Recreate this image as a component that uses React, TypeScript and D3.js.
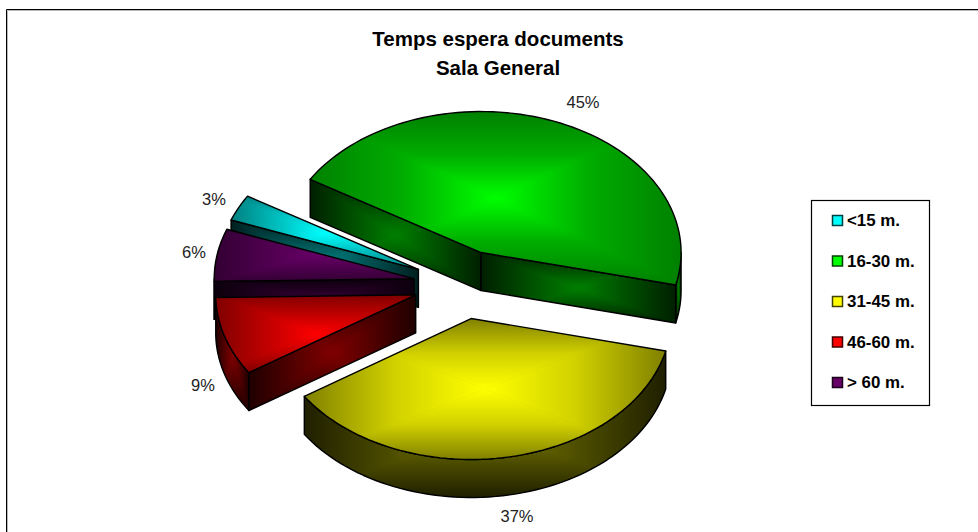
import React from "react";
import * as d3 from "d3";

// Waiting-time shares shown on the exploded 3D pie.
const categories = ["<15 m.", "16-30 m.", "31-45 m.", "46-60 m.", "> 60 m."];
const shares = [3, 45, 37, 9, 6];
const percentLabels = ["3%", "45%", "37%", "9%", "6%"];
const baseColors = ["#00ffff", "#00ff00", "#ffff00", "#ff0000", "#660066"];
const titleLines = ["Temps espera documents", "Sala General"];
// Brightness halfway along each top surface's ramp (edge 0.5, centre 1).
const topMidBrightness = [0.75, 0.68, 0.82, 0.75, 0.75];

const WIDTH = 978;
const HEIGHT = 532;
const FONT = "'Liberation Sans', Arial, sans-serif";

// Projection of the pie disc.
const CX = 462.5;
const CY = 284.5;
const RX = 200;
const RY = 141;
const DEPTH = 38;
const EXPLODE = 49;
const START_DEG = 290.5;

const labelPositions: [number, number][] = [
  [214, 205],
  [583, 108],
  [517, 522],
  [203, 391],
  [194, 258],
];
const paintOrder = [1, 0, 4, 3, 2];

type Pt = [number, number];

const pieLayout = d3
  .pie<number>()
  .sort(null)
  .startAngle((START_DEG * Math.PI) / 180)
  .endAngle((START_DEG * Math.PI) / 180 + 2 * Math.PI);

const project = (c: Pt, a: number, dz = 0): Pt => [
  c[0] + RX * Math.sin(a),
  c[1] - RY * Math.cos(a) + dz,
];

function arcPoints(c: Pt, a0: number, a1: number, dz = 0): Pt[] {
  const n = Math.max(2, Math.ceil(((a1 - a0) * 180) / Math.PI / 2));
  return d3.range(n + 1).map((i) => project(c, a0 + ((a1 - a0) * i) / n, dz));
}

const toPath = (pts: Pt[]) => d3.line()(pts) + "Z";

// Visible part of the outer rim: the stretch of arc facing the viewer.
function rimRuns(a0: number, a1: number): [number, number][] {
  const runs: [number, number][] = [];
  for (let k = 0; k <= 1; k++) {
    const lo = Math.PI / 2 + 2 * Math.PI * k;
    const hi = (3 * Math.PI) / 2 + 2 * Math.PI * k;
    const s = Math.max(a0, lo);
    const e = Math.min(a1, hi);
    if (e > s) runs.push([s, e]);
  }
  return runs;
}

type RectFill = { id: string; pts: Pt[]; center: string; mid: string; edge: string };

// Rectangular "from centre" shading: four triangles from the bounding box
// centre to its corners, each with a ramp, clipped to the shape.
function RectShade({ id, pts, center, mid, edge }: RectFill) {
  const [x0, x1] = d3.extent(pts, (p) => p[0]) as [number, number];
  const [y0, y1] = d3.extent(pts, (p) => p[1]) as [number, number];
  const mx = (x0 + x1) / 2;
  const my = (y0 + y1) / 2;
  const sides = [
    { k: "t", g: [mx, y0, mx, my], tri: [[x0, y0], [x1, y0], [mx, my]] },
    { k: "r", g: [x1, my, mx, my], tri: [[x1, y0], [x1, y1], [mx, my]] },
    { k: "b", g: [mx, y1, mx, my], tri: [[x1, y1], [x0, y1], [mx, my]] },
    { k: "l", g: [x0, my, mx, my], tri: [[x0, y1], [x0, y0], [mx, my]] },
  ];
  return (
    <g>
      <defs>
        <clipPath id={`${id}-clip`}>
          <path d={toPath(pts)} />
        </clipPath>
        {sides.map((s) => (
          <linearGradient
            key={s.k}
            id={`${id}-${s.k}`}
            gradientUnits="userSpaceOnUse"
            x1={s.g[0]}
            y1={s.g[1]}
            x2={s.g[2]}
            y2={s.g[3]}
          >
            <stop offset="0" stopColor={edge} />
            <stop offset="0.5" stopColor={mid} />
            <stop offset="1" stopColor={center} />
          </linearGradient>
        ))}
      </defs>
      <g clipPath={`url(#${id}-clip)`}>
        <rect x={x0} y={y0} width={x1 - x0} height={y1 - y0} fill={edge} />
        {sides.map((s) => (
          <path
            key={s.k}
            d={toPath(s.tri as Pt[])}
            fill={`url(#${id}-${s.k})`}
            stroke={`url(#${id}-${s.k})`}
            strokeWidth={0.6}
          />
        ))}
      </g>
      <path d={toPath(pts)} fill="none" stroke="#000" strokeWidth={1.4} strokeLinejoin="round" />
    </g>
  );
}

const shade = (base: string, k: number) => {
  const c = d3.rgb(base);
  return d3.rgb(c.r * k, c.g * k, c.b * k).formatHex();
};

export default function App() {
  const arcs = pieLayout(shares);

  const slices = paintOrder.map((i) => {
    const { startAngle: a0, endAngle: a1 } = arcs[i];
    const mid = (a0 + a1) / 2;
    const c: Pt = [CX + EXPLODE * Math.sin(mid), CY - (EXPLODE * RY * Math.cos(mid)) / RX];
    const color = baseColors[i];
    const faces: Pt[][] = [];
    const normStart = ((a0 % (2 * Math.PI)) + 2 * Math.PI) % (2 * Math.PI);
    const normEnd = ((a1 % (2 * Math.PI)) + 2 * Math.PI) % (2 * Math.PI);
    const quad = (a: number): Pt[] => [
      c,
      project(c, a),
      project(c, a, DEPTH),
      [c[0], c[1] + DEPTH],
    ];
    if (normStart > Math.PI) faces.push(quad(a0));
    if (normEnd < Math.PI) faces.push(quad(a1));
    const rims = rimRuns(a0, a1).map(([s, e]) => [
      ...arcPoints(c, s, e),
      ...arcPoints(c, s, e, DEPTH).reverse(),
    ]);
    return { i, c, a0, a1, color, faces, rims };
  });

  return (
    <svg
      width={WIDTH}
      height={HEIGHT}
      viewBox={`0 0 ${WIDTH} ${HEIGHT}`}
      style={{ position: "absolute", left: 0, top: 0, display: "block", background: "#fff" }}
    >
      {/* chart frame: top and left edges with a soft inner line */}
      <path d="M7.5,533V10.5H979" fill="none" stroke="#b8b8b8" strokeWidth={1} />
      <path d="M6.5,533V9.5H979" fill="none" stroke="#000" strokeWidth={1} />

      {titleLines.map((t, k) => (
        <text
          key={t}
          x={498}
          y={46 + k * 28.5}
          textAnchor="middle"
          fontFamily={FONT}
          fontWeight="bold"
          fontSize={20.5}
          fill="#000"
        >
          {t}
        </text>
      ))}

      {slices.map((s) => (
        <g key={s.i}>
          {s.rims.map((pts, k) => (
            <RectShade
              key={`r${k}`}
              id={`rim-${s.i}-${k}`}
              pts={pts}
              center={shade(s.color, 0.5)}
              mid={shade(s.color, 0.31)}
              edge={shade(s.color, 0.12)}
            />
          ))}
          {s.faces.map((pts, k) => (
            <RectShade
              key={`f${k}`}
              id={`face-${s.i}-${k}`}
              pts={pts}
              center={shade(s.color, 0.5)}
              mid={shade(s.color, 0.31)}
              edge={shade(s.color, 0.12)}
            />
          ))}
          <RectShade
            id={`top-${s.i}`}
            pts={[s.c, ...arcPoints(s.c, s.a0, s.a1)]}
            center={s.color}
            mid={shade(s.color, topMidBrightness[s.i])}
            edge={shade(s.color, 0.5)}
          />
        </g>
      ))}

      {percentLabels.map((t, i) => (
        <text
          key={t}
          x={labelPositions[i][0]}
          y={labelPositions[i][1]}
          textAnchor="middle"
          fontFamily={FONT}
          fontSize={16.5}
          fill="#222"
        >
          {t}
        </text>
      ))}

      {/* legend */}
      <rect x={811.5} y={200.5} width={118} height={205} fill="#fff" stroke="#000" strokeWidth={1.2} />
      {categories.map((name, i) => {
        const y = d3.scaleLinear().domain([0, 4]).range([220.5, 382.5])(i);
        return (
          <g key={name}>
            <rect
              x={832.5}
              y={y - 5}
              width={10}
              height={10}
              fill={baseColors[i]}
              stroke={shade(baseColors[i], 0.25)}
              strokeWidth={1.5}
            />
            <text x={847} y={y + 5.5} fontFamily={FONT} fontWeight="bold" fontSize={16.9} fill="#000">
              {name}
            </text>
          </g>
        );
      })}
    </svg>
  );
}
